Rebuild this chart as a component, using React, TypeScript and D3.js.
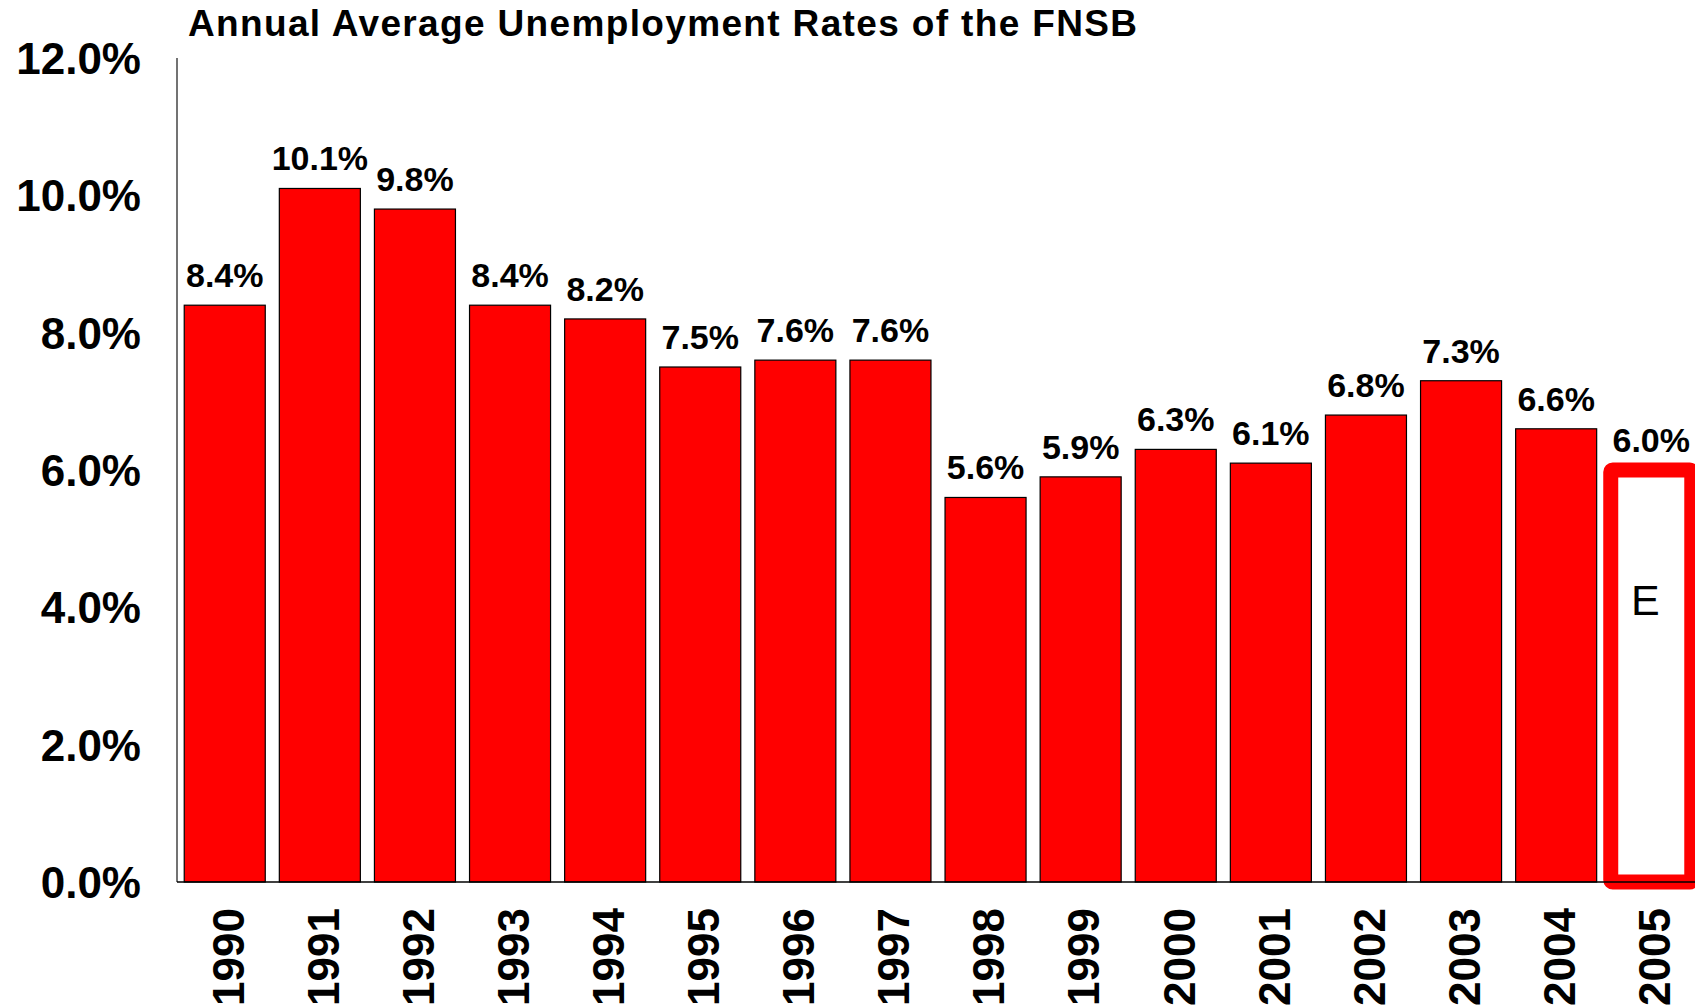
import React, { useEffect, useRef } from 'react'
import * as d3 from 'd3'

// chart data
const years = ['1990', '1991', '1992', '1993', '1994', '1995', '1996', '1997', '1998', '1999', '2000', '2001', '2002', '2003', '2004', '2005']
const rates = [8.4, 10.1, 9.8, 8.4, 8.2, 7.5, 7.6, 7.6, 5.6, 5.9, 6.3, 6.1, 6.8, 7.3, 6.6, 6.0]
const yTicks = [0, 2, 4, 6, 8, 10, 12]
const estimateYear = '2005'
const title = 'Annual Average Unemployment Rates of the FNSB'

const App = () => {
    const ref = useRef<SVGSVGElement>(null)

    useEffect(() => {
        draw()
    })

    const draw = () => {
        const width = 1695
        const height = 1008
        const left = 177
        const top = 58
        const baseline = 882
        const font = 'Liberation Sans, Arial, sans-serif'

        const svg = d3.select(ref.current)
        svg.selectAll('*').remove()
        svg.attr('width', width).attr('height', height)

        const data = years.map((year, i) => ({ year, value: rates[i] }))

        const x = d3.scaleBand().domain(years).range([left, 1699]).paddingInner(0.148).paddingOuter(0.076)
        const y = d3.scaleLinear().domain([0, 12]).range([baseline, top])

        // title
        svg.append('text')
            .attr('x', 188)
            .attr('y', 36)
            .attr('font-family', font)
            .attr('font-weight', 'bold')
            .attr('font-size', 37)
            .attr('textLength', 949)
            .attr('lengthAdjust', 'spacing')
            .text(title)

        // y tick labels, no tick marks
        svg.selectAll('.ytick')
            .data(yTicks)
            .enter()
            .append('text')
            .attr('class', 'ytick')
            .attr('x', 141)
            .attr('y', (d) => y(d))
            .attr('dy', '0.36em')
            .attr('text-anchor', 'end')
            .attr('font-family', font)
            .attr('font-weight', 'bold')
            .attr('font-size', 44)
            .text((d) => d3.format('.1f')(d) + '%')

        // bars
        svg.selectAll('.bar')
            .data(data.filter((d) => d.year !== estimateYear))
            .enter()
            .append('rect')
            .attr('class', 'bar')
            .attr('x', (d) => x(d.year) || 0)
            .attr('width', x.bandwidth())
            .attr('y', (d) => y(d.value))
            .attr('height', (d) => baseline - y(d.value))
            .attr('fill', '#ff0000')
            .attr('stroke', '#000')
            .attr('stroke-width', 1.2)

        // estimated year: hollow bar with thick red outline
        const est = data.filter((d) => d.year === estimateYear)
        svg.selectAll('.est')
            .data(est)
            .enter()
            .append('rect')
            .attr('class', 'est')
            .attr('x', (d) => x(d.year) || 0)
            .attr('width', x.bandwidth())
            .attr('y', (d) => y(d.value))
            .attr('height', (d) => baseline - y(d.value))
            .attr('rx', 2)
            .attr('fill', '#fff')
            .attr('stroke', '#ff0000')
            .attr('stroke-width', 15)
            .attr('stroke-linejoin', 'round')

        svg.selectAll('.estLabel')
            .data(est)
            .enter()
            .append('text')
            .attr('class', 'estLabel')
            .attr('x', (d) => (x(d.year) || 0) + x.bandwidth() / 2 - 6)
            .attr('y', (d) => y(d.value) + 130)
            .attr('dy', '0.36em')
            .attr('text-anchor', 'middle')
            .attr('font-family', font)
            .attr('font-size', 43)
            .text('E')

        // value labels
        svg.selectAll('.label')
            .data(data)
            .enter()
            .append('text')
            .attr('class', 'label')
            .attr('x', (d) => (x(d.year) || 0) + x.bandwidth() / 2)
            .attr('y', (d) => y(d.value) - 18)
            .attr('text-anchor', 'middle')
            .attr('font-family', font)
            .attr('font-weight', 'bold')
            .attr('font-size', 34)
            .text((d) => d3.format('.1f')(d.value) + '%')

        // axes lines
        svg.append('line')
            .attr('x1', left).attr('x2', left)
            .attr('y1', top).attr('y2', baseline)
            .attr('stroke', '#444').attr('stroke-width', 1.5)
        svg.append('line')
            .attr('x1', left).attr('x2', width)
            .attr('y1', baseline).attr('y2', baseline)
            .attr('stroke', '#000').attr('stroke-width', 1.5)

        // year labels, rotated
        svg.selectAll('.xlabel')
            .data(years)
            .enter()
            .append('text')
            .attr('class', 'xlabel')
            .attr('transform', (d) => `translate(${(x(d) || 0) + x.bandwidth() / 2 + 3},908) rotate(-90)`)
            .attr('dy', '0.36em')
            .attr('text-anchor', 'end')
            .attr('font-family', font)
            .attr('font-weight', 'bold')
            .attr('font-size', 44)
            .text((d) => d)
    }

    return <svg ref={ref} style={{ position: 'absolute', left: 0, top: 0, display: 'block' }}></svg>
}

export default App
